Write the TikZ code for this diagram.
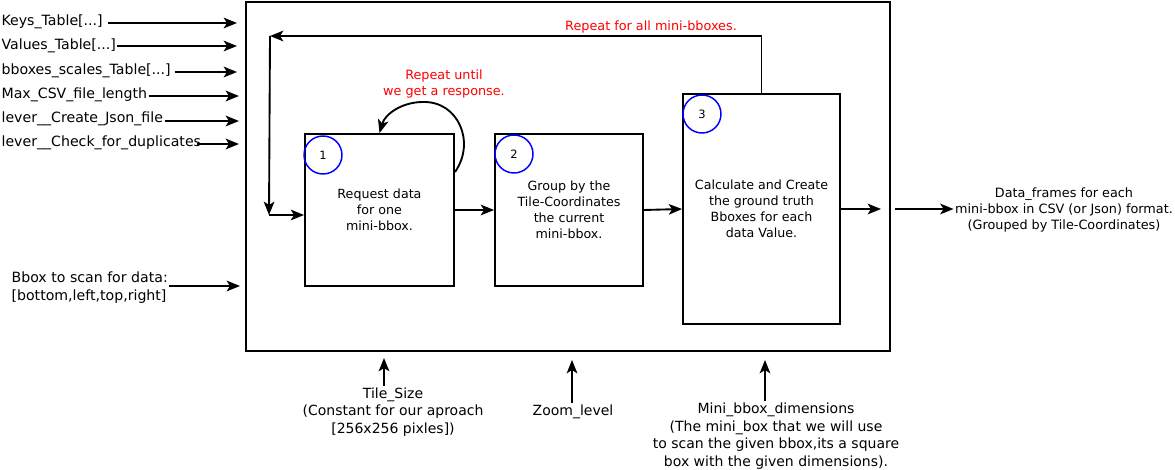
\documentclass[tikz,border=0pt]{standalone}
\usepackage{fontspec}
\setmainfont{DejaVu Sans}
\usepackage{tikz}
\usetikzlibrary{arrows.meta}

\begin{document}
\begin{tikzpicture}[x=0.75pt,y=-0.75pt,
  >={Stealth[length=10pt,width=8pt,inset=2.5pt]},
  stepbox/.style={draw,line width=1.4pt,align=center,inner sep=0pt,font=\fontsize{9.5}{12}\selectfont},
  numcirc/.style={draw=blue,line width=1.1pt,circle,minimum size=28.5pt,inner sep=0pt,font=\fontsize{8.6}{9}\selectfont},
  inlbl/.style={anchor=west,inner sep=1pt,font=\fontsize{10.6}{13}\selectfont},
  outlbl/.style={align=center,inner sep=1pt,font=\fontsize{10.5}{13.2}\selectfont},
  note/.style={text=red,align=center,inner sep=0pt,font=\fontsize{9.6}{12}\selectfont},
  link/.style={line width=1.4pt,->}]
\useasboundingbox (0,0) rectangle (1175,470);

\draw [line width=1.4pt] (246,2) rectangle (890,351);

% inputs on the left
\node [inlbl] (keys) at (0,22) {Keys\_Table[...]};
\node [inlbl] (vals) at (0,46) {Values\_Table[...]};
\node [inlbl] (scales) at (0,71) {bboxes\_scales\_Table[...]};
\node [inlbl] (maxcsv) at (0,95) {Max\_CSV\_file\_length};
\node [inlbl] (leverjson) at (0,119) {lever\_\_Create\_Json\_file};
\node [inlbl] (leverdup) at (0,143) {lever\_\_Check\_for\_duplicates};
\node [inlbl,align=left,font=\fontsize{10.6}{13.5}\selectfont] (bbox) at (10,288) {Bbox to scan for data:\\{[}bottom,left,top,right{]}};

\coordinate (inkeys) at (237,23);
\coordinate (invals) at (237,46);
\coordinate (inscales) at (237,72);
\coordinate (inmax) at (239,96);
\coordinate (injson) at (239,121);
\coordinate (indup) at (239,144);
\coordinate (inbbox) at (240,286);

\draw [link] ([xshift=3pt]keys.east |- inkeys) -- (inkeys);
\draw [link] (vals.east |- invals) -- (invals);
\draw [link] ([xshift=2pt]scales.east |- inscales) -- (inscales);
\draw [link] (maxcsv.east |- inmax) -- (inmax);
\draw [link] (leverjson.east |- injson) -- (injson);
\draw [link] ([xshift=-4pt]leverdup.east |- indup) -- (indup);
\draw [link] (bbox.east |- inbbox) -- (inbbox);

% steps
\node [stepbox,minimum width=111.75pt,minimum height=114pt] (box1) at (379.5,210) {Request data\\for one\\mini-bbox.};
\node [stepbox,minimum width=111pt,minimum height=114pt] (box2) at (569,210) {Group by the\\Tile-Coordinates\\the current\\mini-bbox.};
\node [stepbox,minimum width=117.75pt,minimum height=172.5pt] (box3) at (761.5,209) {Calculate and Create\\the ground truth\\Bboxes for each\\data Value.};

\node [numcirc] (num1) at (323,155) {1};
\node [numcirc] (num2) at (514,154) {2};
\node [numcirc] (num3) at (702,114) {3};

\draw [link] (box1.east) -- (box2.west);
\draw [link] (box2.east) -- (box3.west);

% loops
\coordinate (loopstart) at (455,172);
\draw [link] (loopstart) .. controls (476,142) and (458,101) .. (423,102) .. controls (402,102) and (385,114) .. (box1.north);
\node [note] (untilnote) at (444,84) {Repeat until\\ we get a response.};

\coordinate (looptop) at (270,36);
\coordinate (loopleft) at (269,215);
\draw [link] (box3.north) |- (looptop);
\draw [link] (looptop) -- (loopleft);
\draw [link] (loopleft) -- (box1.west |- loopleft);
\node [note] (allnote) at (651,27) {Repeat for all mini-bboxes.};

% output
\coordinate (outend) at (881,209);
\coordinate (outstart) at (895,209);
\draw [link] (box3.east) -- (outend);
\node [outlbl,font=\fontsize{9.6}{12}\selectfont] (frames) at (1064,210) {Data\_frames for each\\ mini-bbox in CSV (or Json) format.\\(Grouped by Tile-Coordinates)};
\draw [link] (outstart) -- (frames.west |- outstart);

% inputs from below
\node [outlbl] (tilesz) at (393,412) {Tile\_Size\\ (Constant for our aproach\\ {[}256x256 pixles{]})};
\node [outlbl] (zoomlvl) at (573,412) {Zoom\_level};
\node [outlbl] (minidim) at (776,436) {Mini\_bbox\_dimensions\\ (The mini\_box that we will use\\ to scan the given bbox,its a square\\ box with the given dimensions).};

\coordinate (uptile) at (384,358);
\coordinate (upzoom) at (572,360);
\coordinate (upmini) at (765,360);
\draw [link] (uptile |- tilesz.north) -- (uptile);
\draw [link] (upzoom |- zoomlvl.north) -- (upzoom);
\draw [link] (upmini |- minidim.north) -- (upmini);

\end{tikzpicture}
\end{document}
